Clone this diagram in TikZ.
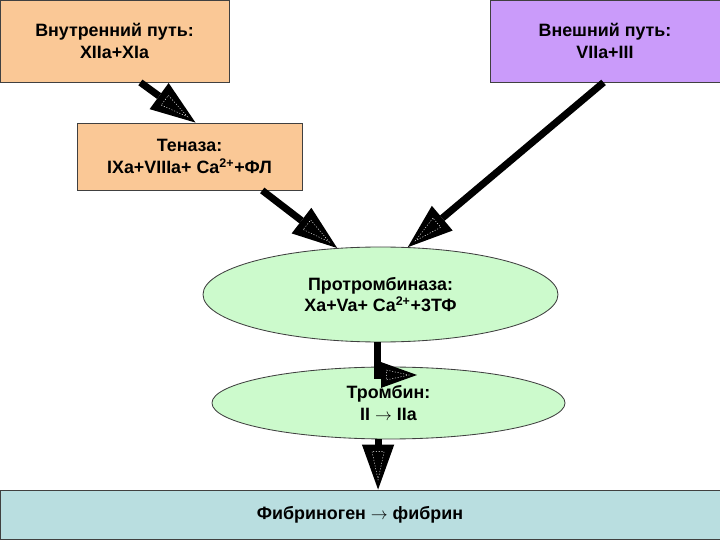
\documentclass[tikz,border=0pt]{standalone}
\usepackage{fontspec}
\setmainfont{Liberation Sans}
\usetikzlibrary{shapes.geometric, arrows.meta, decorations.markings}

\definecolor{peach}{RGB}{250,200,150}
\definecolor{lilac}{RGB}{202,155,250}
\definecolor{mint}{RGB}{204,250,204}
\definecolor{aqua}{RGB}{185,222,224}

\tikzset{
  box/.style={rectangle, draw=black!75, line width=0.6pt, align=center, inner sep=0pt,
    font=\bfseries\fontsize{12.7}{15.3}\selectfont},
  oval/.style={ellipse, draw=black!75, line width=0.6pt, fill=mint, align=center, inner sep=0pt,
    font=\bfseries\fontsize{12.7}{15.3}\selectfont},
  fat/.style={line width=5pt, -{Triangle[length=32pt, width=23pt, line width=0pt, scale=#1]},
    postaction={decorate, decoration={markings, mark=at position 1 with {
      \draw[white, line width=0.3pt, dash pattern=on 0.8pt off 1.2pt, scale=#1]
        (-27pt,-4.3pt) -- (-7pt,0pt) -- (-27pt,4.3pt) -- cycle;}}}},
  fat/.default=1
}

\begin{document}
\begin{tikzpicture}
\useasboundingbox (0,0) rectangle (18,13.5);

\node[box, fill=peach, minimum width=5.725cm, minimum height=2.05cm] (vnut) at (2.8625,12.475) {Внутренний путь:\\XIIa+XIa};
\node[box, fill=lilac, minimum width=5.75cm, minimum height=2.05cm] (vnesh) at (15.125,12.475) {Внешний путь:\\VIIa+III};
\node[box, fill=peach, minimum width=5.625cm, minimum height=1.675cm] (ten) at (4.7375,9.5875) {Теназа:\\IXa+VIIIa+ Ca\textsuperscript{2+}+ФЛ};

\node[oval, minimum width=8.875cm, minimum height=2.375cm] (protr) at (9.5125,6.1375) {Протромбиназа:\\Xa+Va+ Ca\textsuperscript{2+}+3ТФ};
\node[oval, minimum width=8.825cm, minimum height=1.8cm] (tromb) at (9.7125,3.425) {Тромбин:\\II $\rightarrow$ IIa};

\node[box, fill=aqua, minimum width=18cm, minimum height=1.225cm] (fib) at (9,0.6375) {Фибриноген $\rightarrow$ фибрин};

\coordinate (t4) at (10.425,4.125);

\draw[fat] (vnut.-58.1) -- (ten.80.7);
\draw[fat] (ten.-25.5) -- (protr.133.4);
\draw[fat] (vnesh.-92.8) -- (protr.60.6);
\draw[fat=0.8] (protr.-94.2) |- (t4);
\draw[fat] (tromb.-106.3) -- (tromb.-106.3 |- fib.north);
\end{tikzpicture}
\end{document}
